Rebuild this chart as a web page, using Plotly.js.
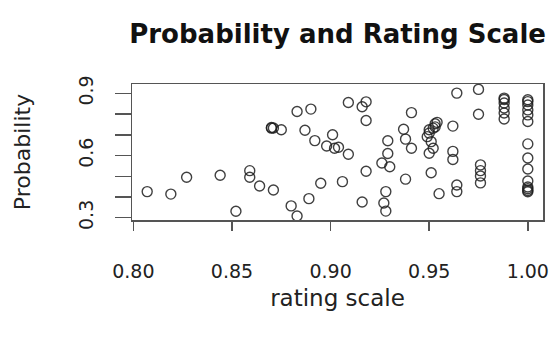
<!DOCTYPE html>
<html>
<head>
<meta charset="utf-8">
<script src="https://cdn.plot.ly/plotly-3.0.1.min.js"></script>
<style>html,body{margin:0;padding:0;background:#fff;}#chart{width:558px;height:341px;}</style>
</head>
<body>
<div id="chart"></div>
<script>
const ratingScale = [
  0.807, 0.819, 0.827, 0.844, 0.852, 0.859, 0.859, 0.864, 0.871, 0.870,
  0.871, 0.870, 0.875, 0.883, 0.890, 0.887, 0.892, 0.898, 0.880, 0.883,
  0.889, 0.895, 0.901, 0.902, 0.904, 0.909, 0.909, 0.918, 0.916, 0.918,
  0.906, 0.918, 0.916, 0.928, 0.927, 0.928, 0.929, 0.929, 0.930, 0.926,
  0.937, 0.938, 0.941, 0.941, 0.938,
  0.953, 0.952, 0.953, 0.950, 0.949, 0.951, 0.952, 0.950, 0.950, 0.954,
  0.951, 0.955, 0.962, 0.962, 0.962, 0.964, 0.964, 0.964, 0.975, 0.975,
  0.976, 0.976, 0.976, 0.976,
  0.988, 0.988, 0.988, 0.988, 0.988, 0.988,
  1.000, 1.000, 1.000, 1.000, 1.000, 1.000,
  1.000, 1.000, 1.000, 1.000, 1.000, 1.000, 1.000, 1.000
];
const probability = [
  0.426, 0.414, 0.495, 0.505, 0.331, 0.527, 0.495, 0.453, 0.434, 0.732,
  0.733, 0.735, 0.724, 0.812, 0.824, 0.722, 0.672, 0.646, 0.357, 0.308,
  0.392, 0.466, 0.700, 0.635, 0.640, 0.606, 0.856, 0.859, 0.835, 0.769,
  0.474, 0.524, 0.376, 0.426, 0.371, 0.332, 0.671, 0.610, 0.546, 0.564,
  0.727, 0.679, 0.635, 0.807, 0.486,
  0.753, 0.732, 0.738, 0.708, 0.691, 0.667, 0.635, 0.611, 0.724, 0.760,
  0.517, 0.416, 0.742, 0.620, 0.581, 0.458, 0.426, 0.901, 0.919, 0.799,
  0.555, 0.527, 0.501, 0.468,
  0.877, 0.853, 0.829, 0.805, 0.776, 0.870,
  0.869, 0.860, 0.844, 0.820, 0.796, 0.764,
  0.656, 0.588, 0.535, 0.477, 0.448, 0.431, 0.425, 0.440
];
const xTickVals = [0.80, 0.85, 0.90, 0.95, 1.00];
const xTickText = ["0.80", "0.85", "0.90", "0.95", "1.00"];
const yTickVals = [0.3, 0.4, 0.5, 0.6, 0.7, 0.8, 0.9];
const yTickText = ["0.3", "", "", "0.6", "", "", "0.9"];

const trace = {
  x: ratingScale, y: probability, type: 'scatter', mode: 'markers',
  marker: {symbol: 'circle-open', size: 10, color: 'rgba(30,30,30,0.85)', line: {width: 1.4}},
  hoverinfo: 'none'
};
const font = "DejaVu Sans, Arial, sans-serif";
const layout = {
  width: 558, height: 341,
  margin: {l: 132, r: 15, t: 84, b: 121},
  paper_bgcolor: '#fff', plot_bgcolor: '#fff',
  showlegend: false,
  title: {text: '<b>Probability and Rating Scale</b>', font: {family: font, size: 26, color: '#111'},
          x: 0.605, xanchor: 'center', y: 0.9, yanchor: 'middle', yref: 'container'},
  xaxis: {
    range: [0.7993, 1.0077], tickvals: xTickVals, ticktext: xTickText,
    showgrid: false, zeroline: false, showline: true, mirror: true,
    linecolor: '#555', linewidth: 1.5, ticks: 'outside', ticklen: 9, tickwidth: 1.5, tickcolor: '#555',
    tickfont: {family: font, size: 19, color: '#222'}, ticklabelstandoff: 25,
    title: {text: 'rating scale', font: {family: font, size: 23, color: '#222'}, standoff: 8}
  },
  yaxis: {
    range: [0.289, 0.945], tickvals: yTickVals, ticktext: yTickText, tickangle: -90,
    showgrid: false, zeroline: false, showline: true, mirror: true,
    linecolor: '#555', linewidth: 1.5, ticks: 'outside', ticklen: 16, tickwidth: 1.5, tickcolor: '#555',
    tickfont: {family: font, size: 19, color: '#222'}, ticklabelstandoff: 14,
    title: {text: 'Probability', font: {family: font, size: 22, color: '#222'}, standoff: 38}
  }
};
Plotly.newPlot('chart', [trace], layout, {staticPlot: true, displayModeBar: false});
</script>
</body>
</html>
